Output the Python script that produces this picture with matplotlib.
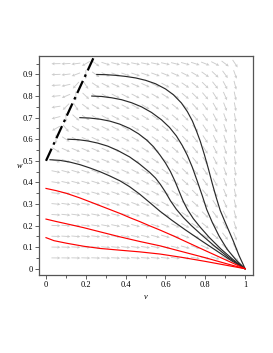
import numpy as np
import matplotlib
matplotlib.use('Agg')
import matplotlib.pyplot as plt
from matplotlib.ticker import MultipleLocator

# trajectories (v, w pairs)
blackCurves = [
    [(0.255, 0.900), (0.30, 0.899), (0.35, 0.896), (0.40, 0.891), (0.45, 0.884), (0.50, 0.873),
     (0.55, 0.857), (0.60, 0.833), (0.64, 0.806), (0.68, 0.768), (0.71, 0.728), (0.735, 0.685),
     (0.755, 0.64), (0.775, 0.59), (0.795, 0.53), (0.815, 0.465), (0.835, 0.395), (0.855, 0.33),
     (0.875, 0.27), (0.90, 0.215), (0.94, 0.13), (0.97, 0.06), (1.0, 0.0)],
    [(0.23, 0.800), (0.28, 0.798), (0.33, 0.792), (0.38, 0.783), (0.43, 0.769), (0.48, 0.750),
     (0.53, 0.724), (0.58, 0.69), (0.62, 0.655), (0.655, 0.615), (0.685, 0.57), (0.71, 0.525),
     (0.735, 0.47), (0.76, 0.405), (0.785, 0.338), (0.807, 0.275), (0.835, 0.215),
     (0.87, 0.15), (0.91, 0.09), (0.955, 0.04), (1.0, 0.0)],
    [(0.17, 0.700), (0.22, 0.698), (0.27, 0.693), (0.32, 0.684), (0.37, 0.670), (0.42, 0.650),
     (0.465, 0.625), (0.506, 0.596), (0.54, 0.565), (0.573, 0.526), (0.60, 0.49),
     (0.625, 0.45), (0.648, 0.405), (0.668, 0.36), (0.688, 0.315), (0.71, 0.275),
     (0.74, 0.232), (0.775, 0.192), (0.82, 0.145), (0.88, 0.09), (0.94, 0.042), (1.0, 0.0)],
    [(0.11, 0.600), (0.16, 0.598), (0.21, 0.592), (0.26, 0.582), (0.31, 0.568), (0.36, 0.548),
     (0.42, 0.518), (0.47, 0.485), (0.52, 0.447), (0.55, 0.42), (0.575, 0.39), (0.60, 0.355),
     (0.625, 0.315), (0.655, 0.275), (0.69, 0.237), (0.73, 0.20), (0.78, 0.158), (0.84, 0.11),
     (0.92, 0.05), (1.0, 0.0)],
    [(0.02, 0.505), (0.07, 0.502), (0.12, 0.494), (0.171, 0.482), (0.22, 0.467), (0.27, 0.45),
     (0.32, 0.43), (0.372, 0.407), (0.42, 0.38), (0.47, 0.346), (0.523, 0.305), (0.573, 0.266),
     (0.63, 0.226), (0.70, 0.18), (0.78, 0.13), (0.86, 0.081), (0.93, 0.038), (1.0, 0.0)],
]
redCurves = [
    [(0.0, 0.372), (0.05, 0.362), (0.104, 0.349), (0.17, 0.328), (0.238, 0.304), (0.305, 0.28),
     (0.372, 0.256), (0.42, 0.237), (0.472, 0.218), (0.52, 0.199), (0.573, 0.179),
     (0.64, 0.152), (0.72, 0.118), (0.80, 0.084), (0.90, 0.042), (1.0, 0.0)],
    [(0.0, 0.230), (0.05, 0.219), (0.104, 0.208), (0.19, 0.19), (0.271, 0.171), (0.37, 0.148),
     (0.472, 0.126), (0.573, 0.106), (0.68, 0.08), (0.80, 0.051), (0.90, 0.025), (1.0, 0.0)],
    [(0.0, 0.144), (0.04, 0.130), (0.104, 0.118), (0.19, 0.104), (0.271, 0.094), (0.37, 0.086),
     (0.472, 0.078), (0.573, 0.068), (0.68, 0.053), (0.80, 0.034), (0.90, 0.017), (1.0, 0.0)],
]

# separatrix w = sepIntercept + sepSlope * v
sepIntercept = 0.5
sepSlope = 2.0
sepV = [0.0, 0.2425]

# direction field grid and model constants
gridVals = np.arange(0.05, 0.951, 0.05)
kDown = 2.2


def field(v, w):
    dv = v * (1 - v) * (sepSlope * v + sepIntercept - w)
    dw = -kDown * w * (1 - w) * v ** 2
    return dv, dw


fig = plt.figure(figsize=(2.73, 3.53), dpi=100)
ax = fig.add_axes([0.143, 0.221, 0.784, 0.62])

V, W = np.meshgrid(gridVals, gridVals)
dV, dW = field(V, W)
# same on-screen length for every arrow (about 9 px)
sx, sy = 199.0, 216.0
n = np.hypot(dV * sx, dW * sy)
n[n == 0] = 1
arrowPx = 9.0
U = arrowPx * dV / n
Vv = arrowPx * dW / n
ax.quiver(V - U / 2, W - Vv / 2, U, Vv, angles='xy', scale_units='xy', scale=1,
          color='#cccccc', width=0.0042, headwidth=3.5, headlength=3.5, headaxislength=3,
          zorder=1)

for c in blackCurves:
    c = np.array(c)
    ax.plot(c[:, 0], c[:, 1], color='#2a2a2a', lw=0.85, zorder=3)
for c in redCurves:
    c = np.array(c)
    ax.plot(c[:, 0], c[:, 1], color='#ff0000', lw=0.85, zorder=3)

sepW = [sepIntercept + sepSlope * x for x in sepV]
ax.plot(sepV, sepW, color='black', lw=1.6, dashes=(6, 2, 1.2, 2), zorder=4)

ax.set_xlim(-0.035, 1.04)
ax.set_ylim(-0.029, 0.985)
ax.xaxis.set_minor_locator(MultipleLocator(0.1))
ax.yaxis.set_minor_locator(MultipleLocator(0.05))
ax.set_xticks([0, 0.2, 0.4, 0.6, 0.8, 1.0])
ax.set_xticklabels(['0', '0.2', '0.4', '0.6', '0.8', '1'])
ax.set_yticks([0, 0.1, 0.2, 0.3, 0.4, 0.5, 0.6, 0.7, 0.8, 0.9])
ax.set_yticklabels(['0', '0.1', '0.2', '0.3', '0.4', '0.5', '0.6', '0.7', '0.8', '0.9'])
ax.tick_params(which='major', length=3, width=0.6, labelsize=6, pad=1.5, color='#444444')
ax.tick_params(which='minor', length=2, width=0.6, color='#444444')
for lab in ax.get_xticklabels() + ax.get_yticklabels():
    lab.set_family('Liberation Serif')
for sp in ax.spines.values():
    sp.set_color('#555555')
    sp.set_linewidth(0.9)

ax.set_xlabel('v', fontsize=6, family='Liberation Serif', style='italic', labelpad=3)
ax.set_ylabel('w', fontsize=6, family='Liberation Serif', style='italic', rotation=0,
              labelpad=1.5, va='center')

fig.savefig('out.png', dpi=100)
